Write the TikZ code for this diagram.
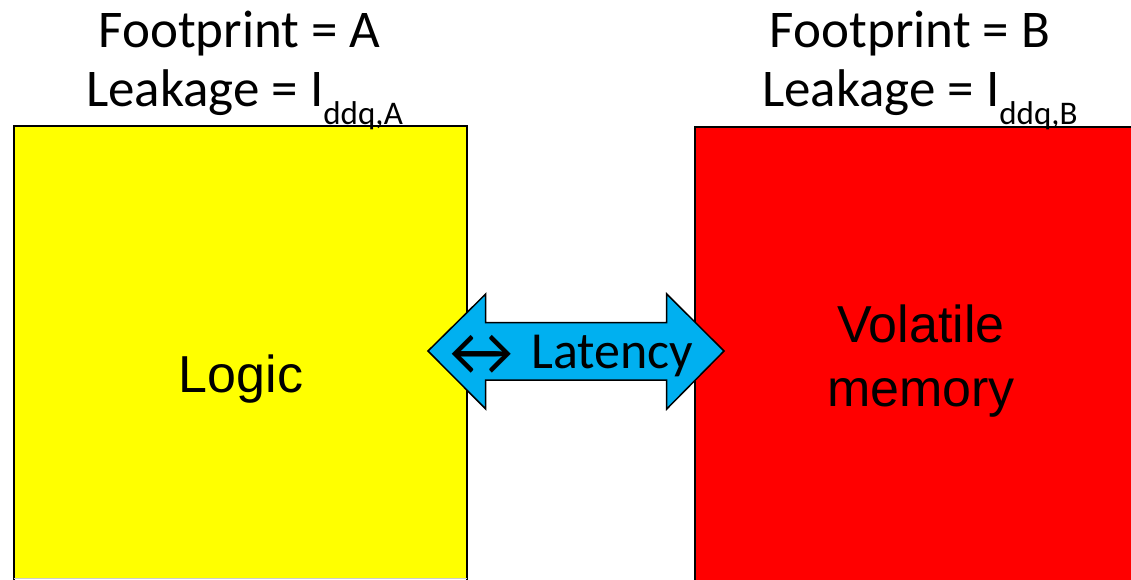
\documentclass[tikz,border=0pt]{standalone}
\usepackage{fontspec}
\setmainfont{Carlito}
\newfontfamily\arialf{Liberation Sans}
\usepackage{graphicx}
\definecolor{boxyellow}{HTML}{FFFF00}
\definecolor{boxred}{HTML}{FF0000}
\definecolor{arrowblue}{HTML}{00B0F0}
\tikzset{
  blockbox/.style={draw=black, line width=1.5pt},
  title/.style={font=\fontsize{53}{60}\selectfont, inner sep=0pt, anchor=base},
  leak/.style={font=\fontsize{53}{60}\selectfont, inner sep=0pt, anchor=base west},
  inbox/.style={font=\arialf\fontsize{52}{64}\selectfont, inner sep=0pt, anchor=base, align=center},
  lattext/.style={font=\fontsize{52}{60}\selectfont, inner sep=0pt, anchor=base west},
}
\newcommand{\subtxt}[1]{\raisebox{-18pt}{\fontsize{33}{36}\selectfont #1}}
\begin{document}
\begin{tikzpicture}[x=1pt,y=-1pt]
\useasboundingbox (0,0) rectangle (1131,579);
% boxes
\fill[boxyellow] (14,126) rectangle (467,578.5);
\draw[blockbox] (14,579.5) -- (14,126) -- (467,126) -- (467,579.5);
\draw[black!20, line width=1pt] (14,578.5) -- (467,578.5);
\fill[boxred] (695,127) rectangle (1140,585);
\draw[blockbox] (695,585) -- (695,127) -- (1140,127);
% arrow
\draw[fill=arrowblue, line width=1.5pt, line join=miter]
  (428,351) -- (485.7,294) -- (485.7,322.7) -- (666.7,322.7) -- (666.7,294)
  -- (724,351) -- (666.7,409) -- (666.7,380) -- (485.7,380) -- (485.7,409) -- cycle;
% titles
\node[title] (fa) at (239.5,47) {Footprint = A};
\node[leak] (la) at (86,106) {Leakage = I\subtxt{ddq,A}};
\node[title] (fb) at (910,47) {Footprint = B};
\node[leak] (lb) at (762,106) {Leakage = I\subtxt{ddq,B}};
% box texts
\node[inbox] (logic) at (241,392) {Logic};
\node[inbox] (vol) at (921,342) {Volatile};
\node[inbox] (mem) at (921,406) {memory};
% latency label
\node[lattext] (sym) at (436,375) {\scalebox{1.35}{↔}};
\node[lattext] (lat) at (531,368) {Latency};
\end{tikzpicture}
\end{document}
